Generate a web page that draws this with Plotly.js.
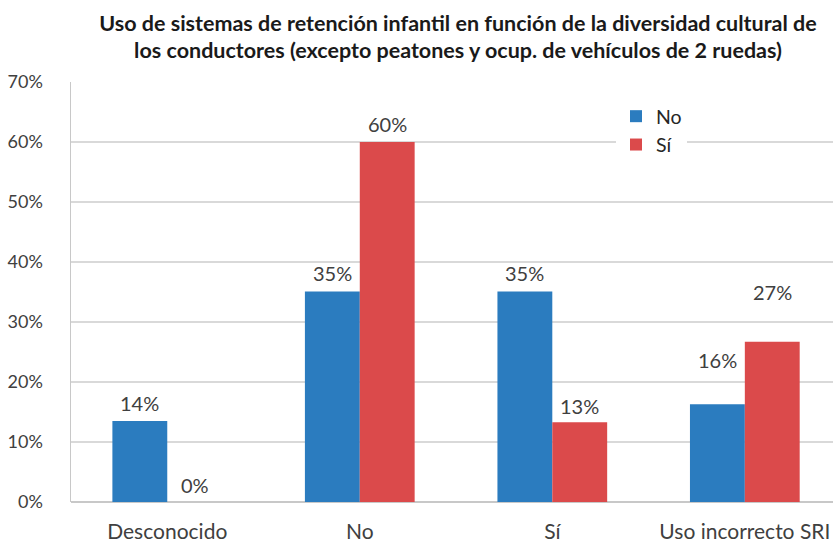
<!DOCTYPE html>
<html>
<head>
<meta charset="utf-8">
<script src="https://cdn.plot.ly/plotly-3.0.1.min.js"></script>
<style>html,body{margin:0;padding:0;background:#fff;}#chart{width:833px;height:543px;}</style>
</head>
<body>
<div id="chart"></div>
<script>
// ---- data ----
const categories = ["Desconocido", "No", "Sí", "Uso incorrecto SRI"];
const seriesNames = ["No", "Sí"];
const valuesNo = [13.5, 35.1, 35.1, 16.3];
const valuesSi = [0, 60.0, 13.3, 26.7];
const labelsNo = ["14%", "35%", "35%", "16%"];
const labelsSi = ["0%", "60%", "13%", "27%"];
const yTickVals = [0, 10, 20, 30, 40, 50, 60, 70];
const yTickText = ["0%", "10%", "20%", "30%", "40%", "50%", "60%", "70%"];

// ---- style config ----
const colors = ["#2B7CBF", "#DB4A4B"];
const FONT = "Lato, 'Open Sans', sans-serif";
const marginL = 71, W = 833, H = 543, marginT = 82, marginB = 41;
const xRange = [-0.5, 3.458];
const bargap = 0.43;
const liftNo = [18, 18, 18, 44];
const liftSi = [17, 18, 16, 50];

const plotW = W - marginL;
const catPx = plotW / (xRange[1] - xRange[0]);
const barPx = catPx * (1 - bargap) / 2;

const traces = [
  {type: "bar", name: seriesNames[0], x: categories, y: valuesNo, marker: {color: colors[0]}, hoverinfo: "none"},
  {type: "bar", name: seriesNames[1], x: categories, y: valuesSi, marker: {color: colors[1]}, hoverinfo: "none"}
];

const annotations = [];
categories.forEach((c, i) => {
  annotations.push({x: c, y: valuesNo[i], xref: "x", yref: "y", text: labelsNo[i], showarrow: false,
    xshift: -barPx / 2, yshift: liftNo[i], yanchor: "middle", font: {family: FONT, size: 20, color: "#404040"}});
  annotations.push({x: c, y: valuesSi[i], xref: "x", yref: "y", text: labelsSi[i], showarrow: false,
    xshift: barPx / 2, yshift: liftSi[i], yanchor: "middle", font: {family: FONT, size: 20, color: "#404040"}});
});

const plotH = H - marginT - marginB;

const layout = {
  width: W, height: H,
  margin: {l: marginL, r: 0, t: marginT, b: marginB, pad: 0},
  paper_bgcolor: "#fff", plot_bgcolor: "#fff",
  title: {
    text: "<b>Uso de sistemas de retención infantil en función de la diversidad cultural de<br>los conductores (excepto peatones y ocup. de vehículos de 2 ruedas)</b>",
    font: {family: FONT, size: 21.5, color: "#1a1a1a"},
    x: 458 / W, xanchor: "center", xref: "container",
    y: 1 - 30.5 / H, yanchor: "top", yref: "container"
  },
  barmode: "group", bargap: bargap, bargroupgap: 0,
  xaxis: {
    type: "category", range: xRange, showgrid: false, zeroline: false,
    showline: false, ticks: "", ticklabelstandoff: 15,
    tickfont: {family: FONT, size: 21, color: "#404040"}
  },
  yaxis: {
    range: [0, 70], tickvals: yTickVals, ticktext: yTickText,
    showgrid: true, gridcolor: "#D9D9D9", gridwidth: 1.5,
    zeroline: true, zerolinecolor: "#C8C8C8", zerolinewidth: 1.5,
    showline: true, linecolor: "#C8C8C8", linewidth: 1.5,
    ticks: "", ticklabelstandoff: 23,
    tickfont: {family: FONT, size: 18, color: "#404040"}
  },
  showlegend: true,
  legend: {
    x: (616 - marginL) / plotW, xref: "paper",
    y: 1 - (97 - marginT) / plotH, yref: "paper",
    xanchor: "left", yanchor: "top",
    bgcolor: "#fff", borderwidth: 0,
    font: {family: FONT, size: 19.5, color: "#262626"},
    itemwidth: 30
  },
  annotations: annotations
};

Plotly.newPlot("chart", traces, layout, {displayModeBar: false, staticPlot: true});
</script>
</body>
</html>
